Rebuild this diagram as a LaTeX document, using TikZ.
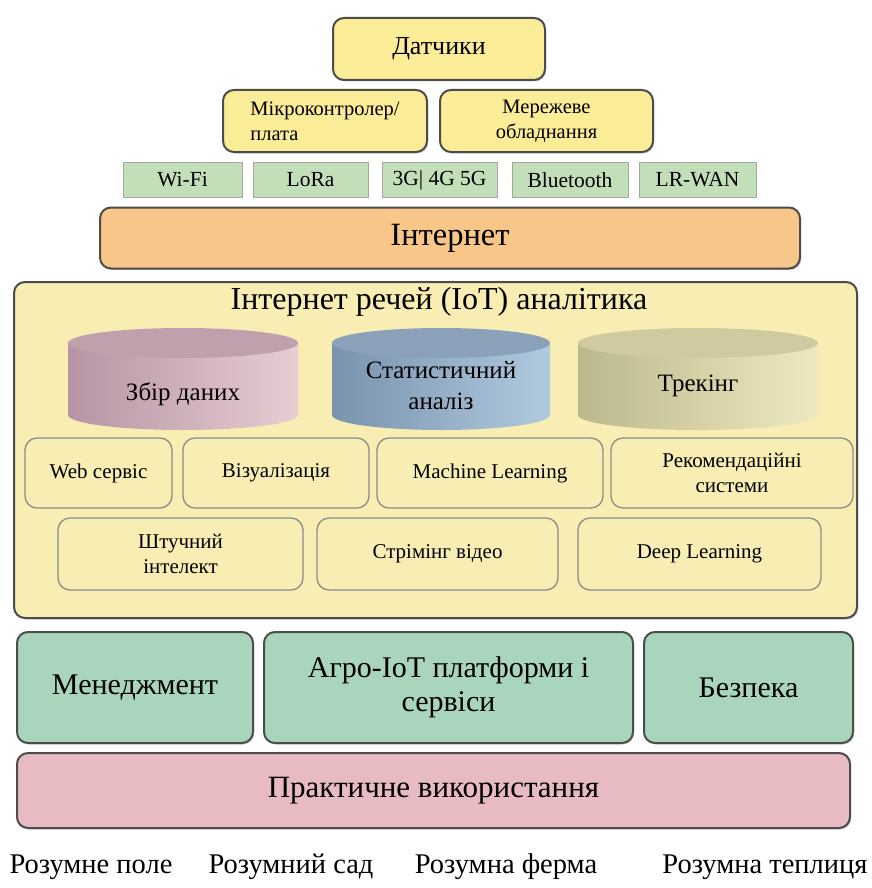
\documentclass[tikz,border=0pt]{standalone}
\usepackage{fontspec}
\setmainfont{Liberation Serif}
\usepackage{xcolor}
\usetikzlibrary{shadows}
\definecolor{sensoryellow}{HTML}{FBEC98}
\definecolor{netgreen}{HTML}{C2DFB9}
\definecolor{netorange}{HTML}{F9C68A}
\definecolor{iotyellow}{HTML}{F8EDB3}
\definecolor{servgreen}{HTML}{A9D5BD}
\definecolor{usepink}{HTML}{E7BBC1}
\tikzstyle{shade-box} = [rectangle, rounded corners=11pt, draw=black!70, line width=2pt, text centered, align=center, drop shadow={opacity=0.35, shadow xshift=1.2pt, shadow yshift=-1.5pt}]
\tikzstyle{sensor-box} = [shade-box, fill=sensoryellow, font=\fontsize{20.5}{25}\selectfont]
\tikzstyle{net-box} = [rectangle, draw=black!35, line width=1pt, fill=netgreen, text centered, minimum height=35pt, font=\fontsize{21.5}{24}\selectfont]
\tikzstyle{tool-box} = [rectangle, rounded corners=12pt, draw=black!45, line width=1.3pt, fill=iotyellow, text centered, align=center, font=\fontsize{21}{25}\selectfont]
\tikzstyle{layer-box} = [shade-box, fill=servgreen, minimum height=111pt, font=\fontsize{30}{34}\selectfont]
\tikzstyle{farm-label} = [font=\fontsize{28.5}{32}\selectfont]

\begin{document}
\begin{tikzpicture}[x=1pt, y=-1pt]
        \useasboundingbox[fill=white] (0,0) rectangle (871,888);

        % sensors and network
        \node [sensor-box, minimum width=212pt, minimum height=62pt, font=\fontsize{26}{30}\selectfont] (sensors) at (439,49) {Датчики};
        \node [sensor-box, minimum width=204pt, minimum height=62pt, align=left] (controller) at (325,121) {Мікроконтролер/\\плата};
        \node [sensor-box, minimum width=213pt, minimum height=62pt] (hardware) at (546.5,121) {Мережеве\\обладнання};

        \node [net-box, minimum width=119pt] (wifi) at (182.5,180) {Wi-Fi};
        \node [net-box, minimum width=115pt] (lora) at (310.5,180) {LoRa};
        \node [net-box, minimum width=115pt] (cellular) at (439.5,180) {3G| 4G 5G};
        \node [net-box, minimum width=116pt] (bluetooth) at (570,180) {Bluetooth};
        \node [net-box, minimum width=117pt] (lrwan) at (697.5,180) {LR-WAN};

        \node [shade-box, fill=netorange, minimum width=700pt, minimum height=61pt, font=\fontsize{32.5}{36}\selectfont] (internet) at (450,238) {Інтернет};

        % analytics layer
        \node [shade-box, fill=iotyellow, minimum width=843pt, minimum height=336pt] (analytics) at (435.5,450) {};
        \node [font=\fontsize{32}{36}\selectfont] (analytics-title) at (439,302) {Інтернет речей (IoT) аналітика};

        \foreach \cx/\rx/\lc/\rc/\tc in {183/115/B595A4/E8CDD3/BEA1AD, 441/109/7A93AE/B0CADF/8BA1B9, 698/120/BCB88D/EFE9BF/CFCAA0}
        {
                \definecolor{cyl-left}{HTML}{\lc}
                \definecolor{cyl-right}{HTML}{\rc}
                \definecolor{cyl-top}{HTML}{\tc}
                \path [left color=cyl-left, right color=cyl-right] (\cx-\rx,343) -- (\cx-\rx,415) arc [start angle=180, end angle=360, x radius=\rx pt, y radius=15pt] -- (\cx+\rx,343) -- cycle;
                \fill [cyl-top] (\cx,343) ellipse [x radius=\rx pt, y radius=15pt];
        }
        \node [font=\fontsize{25}{30}\selectfont] (collect) at (183,394) {Збір даних};
        \node [font=\fontsize{25}{31}\selectfont, align=center] (statistics) at (441,386) {Статистичний\\аналіз};
        \node [font=\fontsize{25}{30}\selectfont] (tracking) at (698,386) {Трекінг};

        \node [tool-box, minimum width=147pt, minimum height=70pt] (web) at (98.5,473) {Web сервіс};
        \node [tool-box, minimum width=186pt, minimum height=70pt] (visual) at (276,473) {Візуалізація};
        \node [tool-box, minimum width=226pt, minimum height=70pt] (ml) at (490,473) {Machine Learning};
        \node [tool-box, minimum width=242pt, minimum height=70pt] (recommend) at (732,473) {Рекомендаційні\\системи};

        \node [tool-box, minimum width=245pt, minimum height=72pt] (ai) at (180.5,554) {Штучний\\інтелект};
        \node [tool-box, minimum width=241pt, minimum height=72pt] (video) at (437.5,554) {Стрімінг відео};
        \node [tool-box, minimum width=243pt, minimum height=72pt] (dl) at (699.5,554) {Deep Learning};

        % services
        \node [layer-box, minimum width=236pt] (management) at (135,687.5) {Менеджмент};
        \node [layer-box, minimum width=369pt] (platforms) at (448.5,687.5) {Агро-IoT платформи і\\сервіси};
        \node [layer-box, minimum width=209pt] (security) at (748.5,687.5) {Безпека};

        \node [shade-box, fill=usepink, minimum width=833pt, minimum height=75pt, font=\fontsize{31}{34}\selectfont] (practice) at (433.5,790.5) {Практичне використання};

        \node [farm-label] (field) at (91,867) {Розумне поле};
        \node [farm-label] (garden) at (291,867) {Розумний сад};
        \node [farm-label] (farm) at (506,867) {Розумна ферма};
        \node [farm-label] (greenhouse) at (765,867) {Розумна теплиця};
\end{tikzpicture}
\end{document}
